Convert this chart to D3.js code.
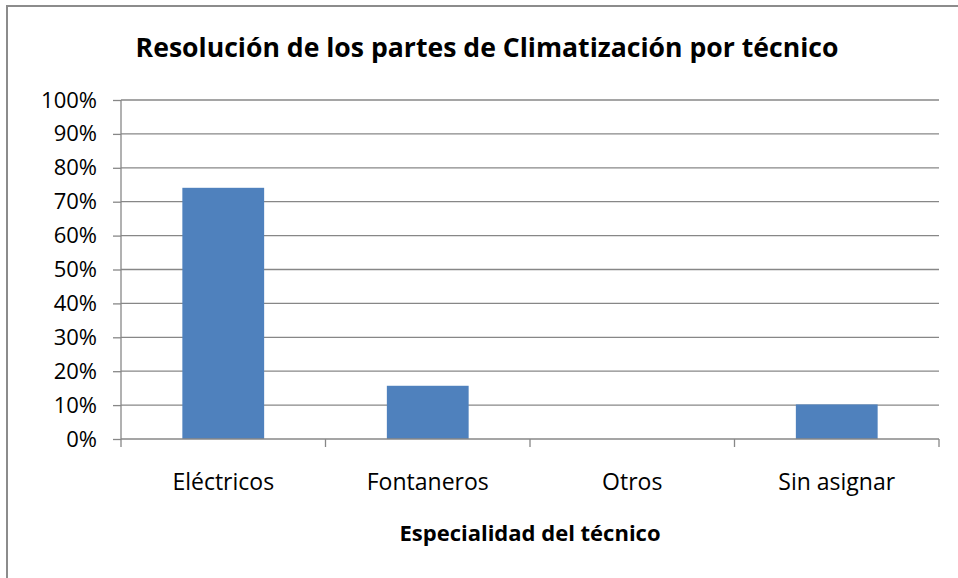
<!DOCTYPE html>
<html>
<head>
<meta charset="utf-8">
<script src="https://cdn.jsdelivr.net/npm/d3@7"></script>
<style>
    html, body { margin: 0; padding: 0; background: #fff; overflow: hidden; }
    svg { display: block; }
    svg text { font-family: "Open Sans", Lato, sans-serif; fill: #000; }
</style>
</head>
<body>
<svg id="chart"></svg>
<script>
// Chart data
const categories = ["Eléctricos", "Fontaneros", "Otros", "Sin asignar"];
const values = [0.741, 0.157, 0, 0.102];
const yTicks = [0, 0.1, 0.2, 0.3, 0.4, 0.5, 0.6, 0.7, 0.8, 0.9, 1];
const titleText = "Resolución de los partes de Climatización por técnico";
const xTitleText = "Especialidad del técnico";

const width = 958, height = 578;
const margin = { top: 100, right: 19, bottom: 139, left: 121 };
const innerWidth = width - margin.left - margin.right;
const innerHeight = height - margin.top - margin.bottom;

const svg = d3.select("#chart")
    .attr("width", width)
    .attr("height", height);

// Outer chart border (only top and left visible in the crop)
svg.append("path")
    .attr("d", `M7,${height} V6 H${width}`)
    .attr("fill", "none")
    .attr("stroke", "#8c8c8c")
    .attr("stroke-width", 2);

// Title
svg.append("text")
    .attr("x", 487)
    .attr("y", 57)
    .attr("text-anchor", "middle")
    .attr("font-size", 26.6)
    .attr("font-weight", "bold")
    .text(titleText);

const g = svg.append("g")
    .attr("transform", `translate(${margin.left}, ${margin.top})`);

// Scales
const xScale = d3.scaleBand()
    .domain(categories)
    .range([0, innerWidth])
    .paddingInner(0.6)
    .paddingOuter(0.3);

const yScale = d3.scaleLinear()
    .domain([0, 1])
    .range([innerHeight, 0]);

// Gridlines
g.append("g")
    .selectAll("line")
    .data(yTicks.slice(1))
    .join("line")
    .attr("x1", 0)
    .attr("x2", innerWidth)
    .attr("y1", d => yScale(d))
    .attr("y2", d => yScale(d))
    .attr("stroke", "#878787")
    .attr("stroke-width", 1.3);

// Bars
g.append("g")
    .selectAll("rect")
    .data(categories)
    .join("rect")
    .attr("x", d => xScale(d))
    .attr("width", xScale.bandwidth())
    .attr("y", (d, i) => yScale(values[i]))
    .attr("height", (d, i) => innerHeight - yScale(values[i]))
    .attr("fill", "#4f81bd");

// Y axis
const yAxis = g.append("g")
    .call(d3.axisLeft(yScale)
        .tickValues(yTicks)
        .tickFormat(d3.format(".0%"))
        .tickSize(8)
        .tickPadding(16));
yAxis.select(".domain").attr("stroke", "#878787").attr("stroke-width", 1.3)
    .attr("d", `M0,0V${innerHeight}`);
yAxis.selectAll(".tick line").attr("stroke", "#878787").attr("stroke-width", 1.3);
yAxis.selectAll(".tick text")
    .attr("font-size", 22)
    .attr("font-family", "\"Open Sans\", sans-serif")
    .attr("fill", "#000");

// X axis with category boundary ticks
const xAxisG = g.append("g")
    .attr("transform", `translate(0, ${innerHeight})`);
xAxisG.append("line")
    .attr("x1", 0).attr("x2", innerWidth)
    .attr("stroke", "#878787").attr("stroke-width", 1.3);
const boundaries = d3.range(categories.length + 1);
xAxisG.selectAll(".bound")
    .data(boundaries)
    .join("line")
    .attr("class", "bound")
    .attr("x1", i => i * innerWidth / categories.length)
    .attr("x2", i => i * innerWidth / categories.length)
    .attr("y1", 0).attr("y2", 8)
    .attr("stroke", "#878787").attr("stroke-width", 1.3);
xAxisG.selectAll(".cat")
    .data(categories)
    .join("text")
    .attr("class", "cat")
    .attr("x", d => xScale(d) + xScale.bandwidth() / 2)
    .attr("y", 51)
    .attr("text-anchor", "middle")
    .attr("font-size", 23)
    .text(d => d);

// X axis title
svg.append("text")
    .attr("x", 530)
    .attr("y", 541)
    .attr("text-anchor", "middle")
    .attr("font-size", 22)
    .attr("font-weight", "bold")
    .text(xTitleText);
</script>
</body>
</html>
